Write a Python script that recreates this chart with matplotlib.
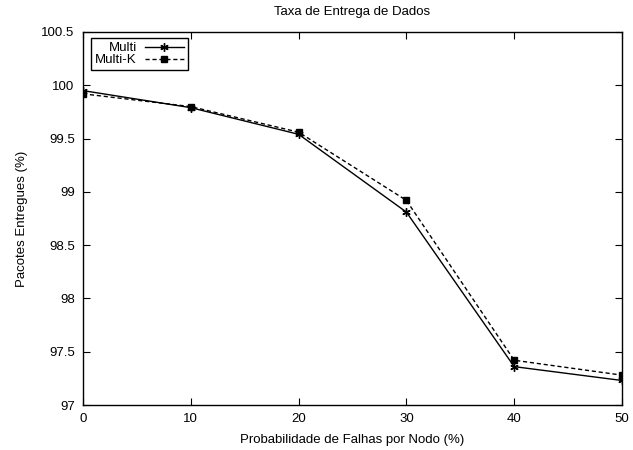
import matplotlib.pyplot as plt

plt.rcParams['font.family'] = ['Liberation Sans', 'DejaVu Sans']

prob = [0, 10, 20, 30, 40, 50]
multi = [99.95, 99.79, 99.54, 98.81, 97.36, 97.23]
multi_k = [99.92, 99.80, 99.56, 98.92, 97.42, 97.28]

yticks = [97, 97.5, 98, 98.5, 99, 99.5, 100, 100.5]
ylabels = ['97', '97.5', '98', '98.5', '99', '99.5', '100', '100.5']

fig = plt.figure(figsize=(6.33, 4.5), dpi=100)
ax = fig.add_axes([83 / 633, 1 - 405 / 450, (622 - 83) / 633, (405 - 32) / 450])

# gnuplot style: asterisk points and filled squares
ax.plot(prob, multi, color='black', linestyle='-', linewidth=1,
        marker=(6, 2, 0), markersize=6, markeredgewidth=1, label='Multi')
ax.plot(prob, multi_k, color='black', linestyle=(0, (3, 2)), linewidth=1,
        marker='s', markersize=5, label='Multi-K')

ax.set_xlim(0, 50)
ax.set_ylim(97, 100.5)
ax.set_xticks(prob)
ax.set_yticks(yticks)
ax.set_yticklabels(ylabels)
ax.tick_params(direction='in', top=True, right=True, length=5, labelsize=9.5, pad=6)
for s in ax.spines.values():
    s.set_linewidth(1)

ax.set_title('Taxa de Entrega de Dados', fontsize=9.5, pad=12)
ax.set_xlabel('Probabilidade de Falhas por Nodo (%)', fontsize=9.5, labelpad=6)
ax.set_ylabel('Pacotes Entregues (%)', fontsize=9.5, labelpad=10)

leg = ax.legend(loc='upper left', bbox_to_anchor=(0.015, 0.984), markerfirst=False,
                fancybox=False, framealpha=1, edgecolor='black', fontsize=9.5,
                borderpad=0.3, labelspacing=0, handlelength=3.0, handletextpad=0.6,
                borderaxespad=0)
leg.get_frame().set_linewidth(1)

fig.savefig('out.png', dpi=100)
